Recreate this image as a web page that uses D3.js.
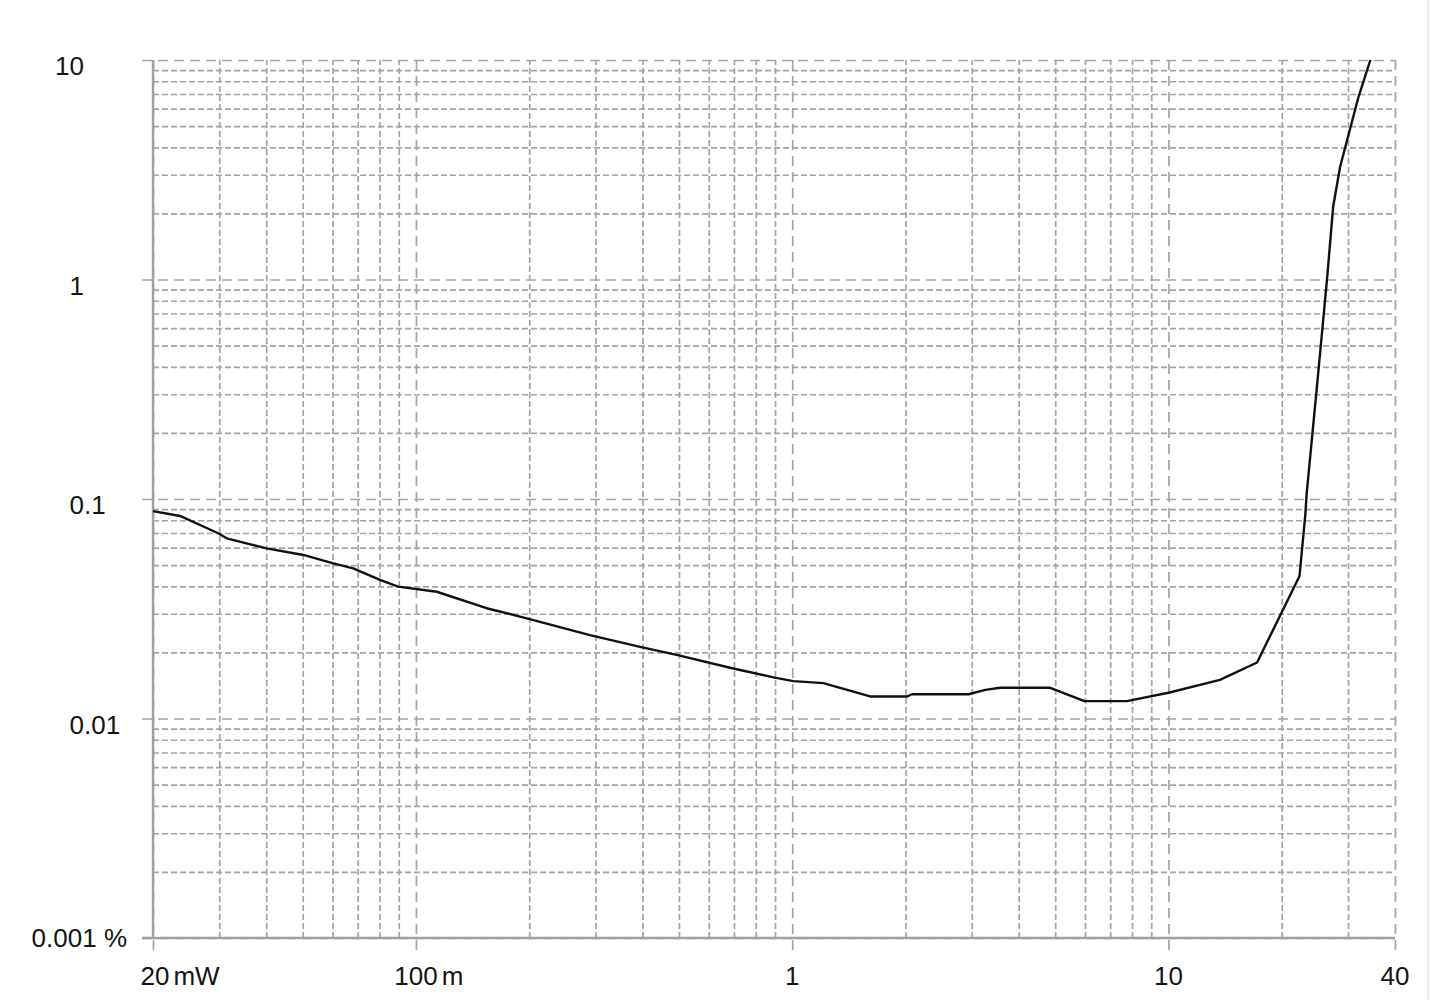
<!DOCTYPE html>
<html>
<head>
<meta charset="utf-8">
<script src="https://cdn.jsdelivr.net/npm/d3@7"></script>
<style>
  html, body { margin: 0; padding: 0; background: #fff; }
  svg { display: block; }
  text { font-family: "Liberation Sans", Arial, sans-serif; fill: #141414; }
</style>
</head>
<body>
<svg id="chart" width="1430" height="1000"></svg>
<script>
// ---- data ----
const powerW = [0.02, 0.0236, 0.0298, 0.0314, 0.0401, 0.0502, 0.0603, 0.0681, 0.0802, 0.0897,
  0.1135, 0.154, 0.197, 0.29, 0.394, 0.493, 0.697, 0.891, 1.007, 1.21,
  1.61, 2.02, 2.08, 2.94, 3.26, 3.57, 4.85, 5.98, 7.75, 10.0,
  13.7, 17.2, 22.3, 23.1, 23.3, 24.9, 26.4, 27.4, 28.6, 32.0, 34.4];
const thdPct = [0.0881, 0.0837, 0.0698, 0.0662, 0.0596, 0.0556, 0.0509, 0.0483, 0.0428, 0.0399,
  0.0378, 0.0318, 0.0286, 0.024, 0.0212, 0.0195, 0.0169, 0.0154, 0.0148, 0.0145,
  0.0126, 0.0126, 0.0129, 0.0129, 0.0135, 0.0138, 0.0138, 0.0120, 0.0120, 0.0131,
  0.0150, 0.0180, 0.0446, 0.0845, 0.106, 0.348, 1.013, 2.15, 3.27, 6.80, 10];

const xMajorTicks = [0.02, 0.1, 1, 10, 40];
const xTickNumbers = ["20", "100", "1", "10", "40"];
const xTickUnits = ["mW", "m", "", "", ""];
const xMinorTicks = [0.03, 0.04, 0.05, 0.06, 0.07, 0.08, 0.09,
  0.2, 0.3, 0.4, 0.5, 0.6, 0.7, 0.8, 0.9,
  2, 3, 4, 5, 6, 7, 8, 9, 20, 30];
const yMajorTicks = [10, 1, 0.1, 0.01, 0.001];
const yTickLabels = ["10", "1", "0.1", "0.01", "0.001 %"];
const yMinorTicks = [];
[0.001, 0.01, 0.1, 1].forEach(d => { for (let k = 2; k <= 9; k++) yMinorTicks.push(+(d * k).toPrecision(3)); });

// ---- layout ----
const L = 153, R = 1395, T = 60, B = 938;
const svg = d3.select("#chart");
const x = d3.scaleLog().domain([0.02, 40]).range([L, R]);
const y = d3.scaleLog().domain([0.001, 10]).range([B, T]);
const gridColor = "#a4a4a4";

// faint page edge line on the right
svg.append("line").attr("x1", 1428).attr("x2", 1428).attr("y1", 0).attr("y2", 1000)
  .attr("stroke", "#e4e4e4").attr("stroke-width", 1.5);

function styleGrid(g, dash) {
  g.select(".domain").remove();
  g.selectAll(".tick line").attr("stroke", gridColor).attr("stroke-width", 1.7)
    .attr("stroke-dasharray", dash);
  g.selectAll(".tick text").remove();
}

// minor gridlines
svg.append("g").attr("transform", `translate(0,${B})`)
  .call(d3.axisBottom(x).tickValues(xMinorTicks).tickSize(-(B - T)).tickFormat(""))
  .call(g => styleGrid(g, "6,3"));
svg.append("g").attr("transform", `translate(${L},0)`)
  .call(d3.axisLeft(y).tickValues(yMinorTicks).tickSize(-(R - L)).tickFormat(""))
  .call(g => styleGrid(g, "6,3"));

// major gridlines (extend past the axes as ticks)
svg.append("g").attr("transform", `translate(0,${B + 12})`)
  .call(d3.axisBottom(x).tickValues(xMajorTicks).tickSize(-(B + 12 - T)).tickFormat(""))
  .call(g => styleGrid(g, "10,6"));
svg.append("g").attr("transform", `translate(${L - 11},0)`)
  .call(d3.axisLeft(y).tickValues(yMajorTicks).tickSize(-(R - L + 11)).tickFormat(""))
  .call(g => styleGrid(g, "10,6"));

// solid axis lines
svg.append("line").attr("x1", L).attr("x2", L).attr("y1", T).attr("y2", B)
  .attr("stroke", "#a0a0a0").attr("stroke-width", 2.4);
svg.append("line").attr("x1", L - 11).attr("x2", R).attr("y1", B).attr("y2", B)
  .attr("stroke", "#a0a0a0").attr("stroke-width", 2.4);

// curve
const line = d3.line().x((d, i) => x(powerW[i])).y(d => y(d));
svg.append("path").datum(thdPct).attr("d", line)
  .attr("fill", "none").attr("stroke", "#111").attr("stroke-width", 2.4)
  .attr("stroke-linejoin", "round");

// tick labels
const fs = 26;
function textWidth(str) {
  const t = svg.append("text").attr("font-size", fs).text(str);
  const w = t.node().getComputedTextLength();
  t.remove();
  return w;
}
yMajorTicks.forEach((v, i) => {
  const lab = yTickLabels[i];
  const isLast = i === yMajorTicks.length - 1;
  if (isLast) {
    svg.append("text").attr("font-size", fs).attr("text-anchor", "end")
      .attr("x", 127).attr("y", y(v) + 9).text(lab);
  } else {
    const intPart = lab.split(".")[0];
    svg.append("text").attr("font-size", fs)
      .attr("x", 84 - textWidth(intPart)).attr("y", y(v) + 15).text(lab);
  }
});
xMajorTicks.forEach((v, i) => {
  const num = xTickNumbers[i];
  const cx = x(v) + (i === 0 ? 2 : 0);
  svg.append("text").attr("font-size", fs).attr("text-anchor", "middle")
    .attr("x", cx).attr("y", 985).text(num);
  if (xTickUnits[i]) {
    svg.append("text").attr("font-size", fs)
      .attr("x", cx + textWidth(num) / 2 + 4).attr("y", 985).text(xTickUnits[i]);
  }
});
</script>
</body>
</html>
